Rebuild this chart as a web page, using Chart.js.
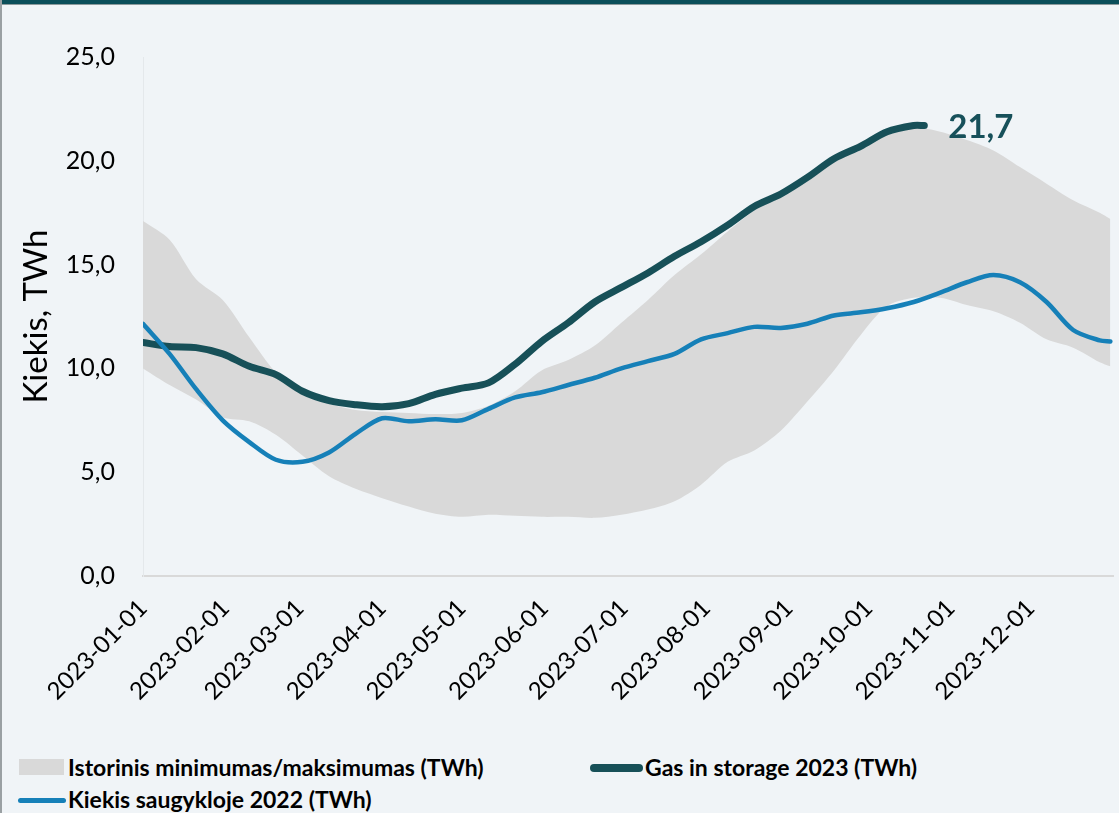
<!DOCTYPE html>
<html>
<head>
<meta charset="utf-8">
<script src="https://cdn.jsdelivr.net/npm/chart.js@4"></script>
<style>
  html, body { margin: 0; padding: 0; }
  body { width: 1119px; height: 813px; background: #f0f4f7; position: relative; overflow: hidden; font-family: Lato, sans-serif; }
  #topbar { position: absolute; left: 0; top: 0; width: 1119px; height: 4px; background: #0b4f5a; border-bottom: 1px solid #8c9a9c; }
  #leftline { position: absolute; left: 0; top: 0; width: 2px; height: 813px; background: #9aa0a3; }
  #wrap { position: absolute; left: 0; top: 0; width: 1119px; height: 716px; }
  .leg { position: absolute; font-weight: bold; font-size: 23px; color: #000; white-space: nowrap; line-height: 1; }
  .sym { position: absolute; }
</style>
</head>
<body>
<div id="topbar"></div>
<div id="leftline"></div>
<div id="wrap"><canvas id="myChart"></canvas></div>

<div class="sym" style="left:19px;top:759px;width:45px;height:16px;background:#d9d9d9;"></div>
<div class="leg" style="left:68px;top:756px;">Istorinis minimumas/maksimumas (TWh)</div>
<div class="sym" style="left:590px;top:764px;width:53px;height:8px;border-radius:4px;background:#175058;"></div>
<div class="leg" style="left:645px;top:756px;">Gas in storage 2023 (TWh)</div>
<div class="sym" style="left:18px;top:798px;width:48px;height:5px;border-radius:3px;background:#1680b8;"></div>
<div class="leg" style="left:68px;top:788px;">Kiekis saugykloje 2022 (TWh)</div>

<script>
// day of year (0 = 2023-01-01)
const days = [0,10,20,30,40,50,60,70,80,90,100,110,120,130,140,150,160,170,180,190,200,210,220,230,240,250,260,270,280,290,300,310,320,330,340,350,360,364];

const histMax = [17.1,16.2,14.3,13.3,11.5,9.8,8.8,8.3,8.0,7.9,7.85,7.8,7.85,8.2,8.9,9.9,10.4,11.1,12.2,13.3,14.5,15.5,16.6,17.6,18.4,19.2,20.0,20.9,21.3,21.6,21.4,21.0,20.5,19.7,18.9,18.1,17.5,17.2];
const histMin = [10.0,9.2,8.5,7.65,7.45,6.8,5.8,4.8,4.2,3.75,3.35,3.0,2.85,2.95,2.9,2.85,2.85,2.8,2.95,3.2,3.6,4.4,5.5,6.05,7.0,8.4,9.9,11.6,13.0,13.4,13.4,13.05,12.75,12.2,11.4,11.0,10.3,10.1];

const gasDays = [0,10,20,30,40,50,60,70,80,90,100,110,120,130,140,150,160,170,180,190,200,210,220,230,240,250,260,270,280,290,294];
const gas2023 = [11.25,11.05,11.0,10.7,10.1,9.7,8.9,8.45,8.25,8.15,8.3,8.75,9.05,9.3,10.2,11.3,12.2,13.2,13.9,14.6,15.4,16.1,16.9,17.8,18.4,19.2,20.1,20.7,21.4,21.7,21.7];

const store2022 = [12.15,10.7,9.0,7.5,6.45,5.6,5.5,5.95,6.85,7.6,7.45,7.55,7.5,8.05,8.6,8.85,9.2,9.55,10.0,10.35,10.7,11.4,11.7,12.0,11.95,12.15,12.55,12.7,12.9,13.2,13.65,14.15,14.5,14.15,13.2,11.85,11.35,11.3];

const monthDays = [0,31,59,90,120,151,181,212,243,273,304,334];
const monthLabels = ['2023-01-01','2023-02-01','2023-03-01','2023-04-01','2023-05-01','2023-06-01','2023-07-01','2023-08-01','2023-09-01','2023-10-01','2023-11-01','2023-12-01'];

const yTicks = [0,5,10,15,20,25];

const toXY = (xs, ys) => ys.map((v, i) => ({x: xs[i], y: v}));
const fmt = v => v.toFixed(1).replace('.', ',');

const lastLabel = {
  id: 'lastLabel',
  afterDatasetsDraw(chart) {
    const meta = chart.getDatasetMeta(1);
    const pt = meta.data[meta.data.length - 1];
    const c = chart.ctx;
    c.save();
    c.font = 'bold 33px Lato';
    c.fillStyle = '#17505a';
    c.textAlign = 'left';
    c.textBaseline = 'middle';
    c.fillText(fmt(gas2023[gas2023.length - 1]), pt.x + 24, pt.y + 2);
    c.restore();
  }
};

const ctx = document.getElementById('myChart');
new Chart(ctx, {
  type: 'line',
  data: {
    datasets: [
      {
        label: 'Kiekis saugykloje 2022 (TWh)',
        data: toXY(days, store2022),
        borderColor: '#1680b8',
        borderWidth: 4.5,
        pointRadius: 0,
        tension: 0.3,
        borderCapStyle: 'round',
        borderJoinStyle: 'round',
        fill: false
      },
      {
        label: 'Gas in storage 2023 (TWh)',
        data: toXY(gasDays, gas2023),
        borderColor: '#175058',
        borderWidth: 7,
        pointRadius: 0,
        tension: 0.3,
        borderCapStyle: 'round',
        borderJoinStyle: 'round',
        fill: false
      },
      {
        label: 'Istorinis maksimumas',
        data: toXY(days, histMax),
        borderWidth: 0,
        borderColor: 'rgba(0,0,0,0)',
        backgroundColor: '#d9d9d9',
        pointRadius: 0,
        tension: 0.3,
        fill: '+1'
      },
      {
        label: 'Istorinis minimumas',
        data: toXY(days, histMin),
        borderWidth: 0,
        borderColor: 'rgba(0,0,0,0)',
        pointRadius: 0,
        tension: 0.3,
        fill: false
      }
    ]
  },
  options: {
    responsive: true,
    maintainAspectRatio: false,
    animation: false,
    layout: { padding: { top: 57, right: 6, bottom: 0, left: 0 } },
    plugins: {
      legend: { display: false },
      tooltip: { enabled: false }
    },
    scales: {
      x: {
        type: 'linear',
        min: 0,
        max: 365,
        afterBuildTicks: s => { s.ticks = monthDays.map(v => ({value: v})); },
        afterFit: s => { s.height = 140; },
        ticks: {
          autoSkip: false,
          maxRotation: 45,
          minRotation: 45,
          padding: 10,
          color: '#000',
          font: { family: 'Lato', size: 24 },
          callback: v => monthLabels[monthDays.indexOf(v)]
        },
        grid: { display: false },
        border: { display: true, color: '#d9d9d9', width: 2 }
      },
      y: {
        min: 0,
        max: 25,
        afterBuildTicks: s => { s.ticks = yTicks.map(v => ({value: v})); },
        afterFit: s => { s.width = 143; },
        ticks: {
          padding: 20,
          color: '#000',
          font: { family: 'Lato', size: 25 },
          callback: v => fmt(v)
        },
        title: {
          display: true,
          text: 'Kiekis, TWh',
          color: '#000',
          font: { family: 'Lato', size: 33 },
          padding: { top: 17, bottom: 0 }
        },
        grid: { display: false },
        border: { display: true, color: '#e4e8eb', width: 1 }
      }
    }
  },
  plugins: [lastLabel]
});
</script>
</body>
</html>
